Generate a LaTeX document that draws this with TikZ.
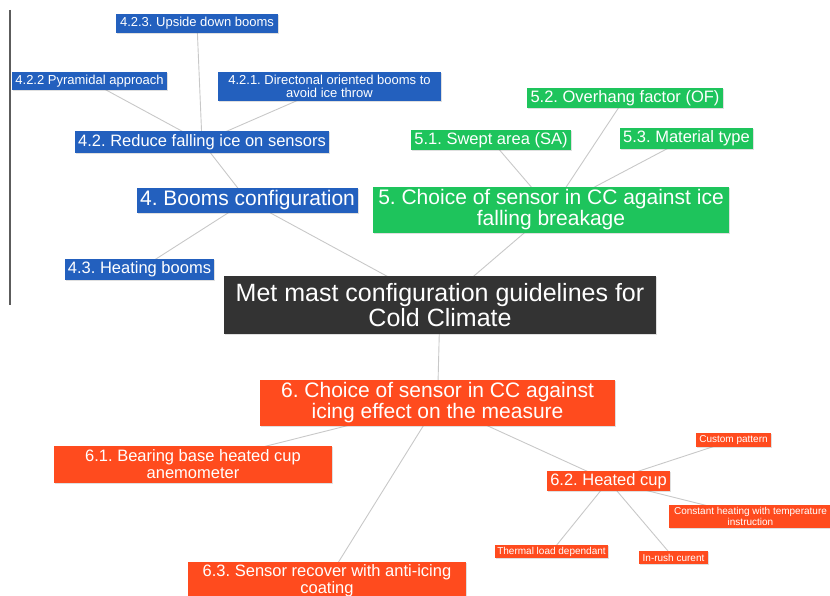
\documentclass[tikz,border=0pt]{standalone}
\usepackage{fontspec}
\setmainfont{Liberation Sans}
\frenchspacing
\usetikzlibrary{backgrounds,shadows}
\definecolor{cblue}{HTML}{2360BE}
\definecolor{cgreen}{HTML}{1EC45C}
\definecolor{corange}{HTML}{FF4B1E}
\definecolor{cdark}{HTML}{333333}
\definecolor{cedge}{HTML}{C8C8C8}
\tikzset{
  box/.style={rectangle, inner sep=0pt, text=white, align=center,
    drop shadow={shadow xshift=1pt, shadow yshift=-1pt, opacity=0.25}},
  bluebox/.style={box, fill=cblue},
  greenbox/.style={box, fill=cgreen},
  orangebox/.style={box, fill=corange},
  darkbox/.style={box, fill=cdark},
  fa/.style={font=\fontsize{25}{25}\selectfont},
  fb/.style={font=\fontsize{21}{21}\selectfont},
  fc/.style={font=\fontsize{16.5}{17}\selectfont},
  fd/.style={font=\fontsize{13}{13}\selectfont},
  fe/.style={font=\fontsize{10}{10.5}\selectfont},
  sz/.style 2 args={minimum width=#1pt, minimum height=#2pt},
  link/.style={draw=cedge, line width=0.9pt}
}
\begin{document}
\begin{tikzpicture}[x=1pt,y=-1pt]
\clip (0,0) rectangle (830,596);
\useasboundingbox (0,0) rectangle (830,596);
\draw[cdark!80, line width=1.2pt] (10,10) -- (10,305);
% blue branch
\node[bluebox, fd, sz={162}{19}] (n423) at (197,23.5) {4.2.3. Upside down booms};
\node[bluebox, fd, sz={155}{18}] (n422) at (89.5,81) {4.2.2 Pyramidal approach};
\node[bluebox, fd, sz={223}{29}] (n421) at (329.5,86.5) {4.2.1. Directonal oriented booms to\\avoid ice throw};
\node[bluebox, fc, sz={254}{22}] (n42) at (202,142) {4.2. Reduce falling ice on sensors};
\node[bluebox, fb, sz={221}{25}] (n4) at (247.5,200.5) {4. Booms configuration};
\node[bluebox, fc, sz={149}{21}] (n43) at (139.5,269.5) {4.3. Heating booms};
% green branch
\node[greenbox, fc, sz={196}{20}] (n52) at (625,98) {5.2. Overhang factor (OF)};
\node[greenbox, fc, sz={160}{20}] (n51) at (491,140) {5.1. Swept area (SA)};
\node[greenbox, fc, sz={133}{21}] (n53) at (686.5,138.5) {5.3. Material type};
\node[greenbox, fb, sz={356}{46}] (n5) at (551,210) {5. Choice of sensor in CC against ice\\falling breakage};
% main
\node[darkbox, fa, sz={432}{58}] (main) at (440,305) {Met mast configuration guidelines for\\Cold Climate};
% orange branch
\node[orangebox, fb, sz={355}{46}] (n6) at (437.5,403) {6. Choice of sensor in CC against\\icing effect on the measure};
\node[orangebox, fc, sz={278}{37}] (n61) at (193,464.5) {6.1. Bearing base heated cup\\anemometer};
\node[orangebox, fc, sz={278}{37}] (n63) at (327,580.5) {6.3. Sensor recover with anti-icing\\coating};
\node[orangebox, fc, sz={123}{20}] (n62) at (608.5,481) {6.2. Heated cup};
\node[orangebox, fe, sz={75}{14}] (ncp) at (733.5,440) {Custom pattern};
\node[orangebox, fe, sz={163}{23}] (nch) at (750.5,516.5) {Constant heating with temperature\\instruction};
\node[orangebox, fe, sz={113}{13}] (ntl) at (551.5,551.5) {Thermal load dependant};
\node[orangebox, fe, sz={69}{13}] (nir) at (673.5,557.5) {In-rush curent};
% connectors
\begin{pgfonlayer}{background}
\draw[link] (main.center) -- (n4.center);
\draw[link] (main.center) -- (n5.center);
\draw[link] (main.center) -- (n6.center);
\draw[link] (n4.center) -- (n42.center);
\draw[link] (n4.center) -- (n43.center);
\draw[link] (n42.center) -- (n421.center);
\draw[link] (n42.center) -- (n422.center);
\draw[link] (n42.center) -- (n423.center);
\draw[link] (n5.center) -- (n51.center);
\draw[link] (n5.center) -- (n52.center);
\draw[link] (n5.center) -- (n53.center);
\draw[link] (n6.center) -- (n61.center);
\draw[link] (n6.center) -- (n62.center);
\draw[link] (n6.center) -- (n63.center);
\draw[link] (n62.center) -- (ncp.center);
\draw[link] (n62.center) -- (nch.center);
\draw[link] (n62.center) -- (ntl.center);
\draw[link] (n62.center) -- (nir.center);
\end{pgfonlayer}
\end{tikzpicture}
\end{document}
